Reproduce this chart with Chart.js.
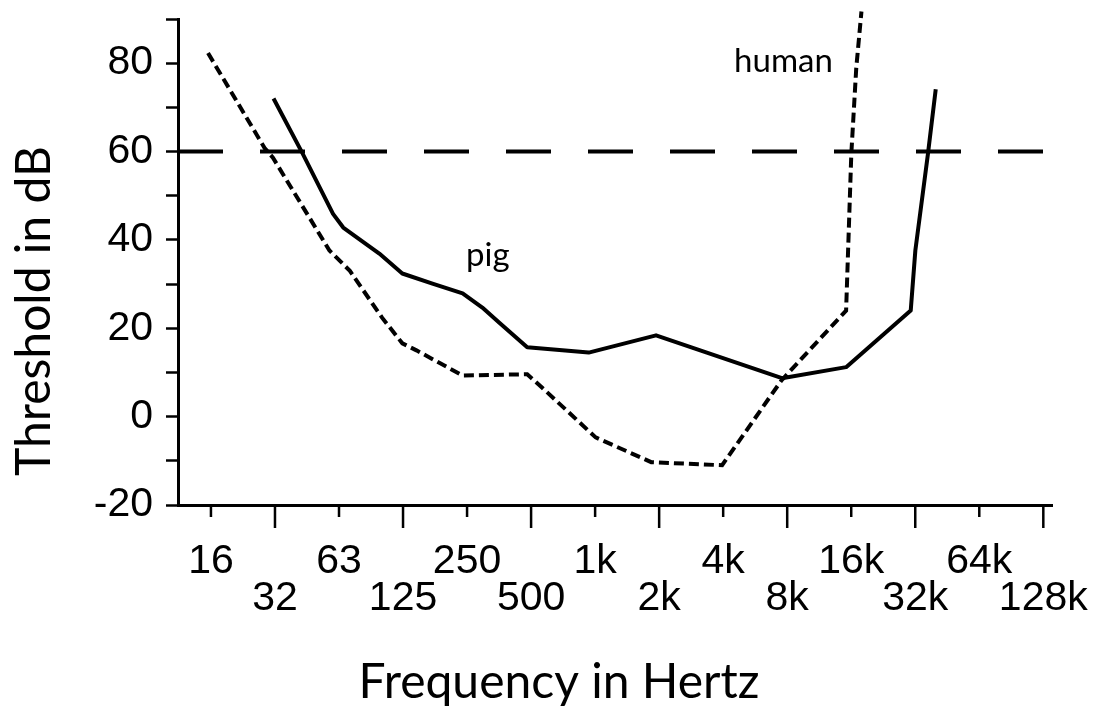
<!DOCTYPE html>
<html>
<head>
<meta charset="utf-8">
<script src="https://cdn.jsdelivr.net/npm/chart.js@4.4.1/dist/chart.umd.min.js"></script>
<style>
  html, body { margin: 0; padding: 0; background: #fff; }
  #wrap { width: 1098px; height: 709px; position: relative; }
</style>
</head>
<body>
<div id="wrap"><canvas id="audiogram"></canvas></div>
<script>
// octave ticks (Hz) and their printed labels
const tickHz = [16, 32, 64, 128, 256, 512, 1024, 2048, 4096, 8192, 16384, 32768, 65536, 131072];
const tickLabels = ['16', '32', '63', '125', '250', '500', '1k', '2k', '4k', '8k', '16k', '32k', '64k', '128k'];

// pig audiogram (solid line)
const pigHz = [31.5, 43, 60, 67, 99, 127, 176, 244, 302, 362, 491, 955, 1980, 7740, 15500, 31200, 32800, 37600, 40900];
const pigDb = [72, 59.7, 45.9, 42.8, 36.9, 32.4, 30.1, 27.9, 24.7, 21.3, 15.7, 14.5, 18.4, 8.7, 11.2, 24.0, 37.6, 59.5, 74.1];

// human audiogram (dashed line)
const humanHz = [15.5, 28.6, 31.3, 57.7, 72, 102, 127, 148, 244, 491, 576, 1030, 1880, 4050, 7700, 15500, 16400, 17300, 18300];
const humanDb = [82.3, 60.8, 58.6, 37.6, 33.0, 22.4, 16.6, 15.0, 9.3, 9.6, 6.6, -4.7, -10.3, -11.0, 8.2, 24.0, 59.5, 78.9, 91.7];

// 60 dB reference line
const refDb = 60;

// axis range
const xMin = 11.2, xMax = 144000;
const yMin = -20, yMax = 90;

// text on the plot
const curveLabels = [
  { text: 'human', hz: 4610, db: 78 },
  { text: 'pig', hz: 253, db: 34 }
];
const xTitle = 'Frequency in Hertz';
const yTitle = 'Threshold in dB';

const toPoints = (xs, ys) => xs.map((v, i) => ({ x: v, y: ys[i] }));

const tickFont = { family: 'Liberation Sans', size: 41, lineHeight: 0.9 };

// long/short x tick marks, curve labels and axis titles
const decorations = {
  id: 'decorations',
  afterDraw(chart) {
    const { ctx, scales: { x, y } } = chart;
    ctx.save();
    ctx.strokeStyle = '#000';
    ctx.lineWidth = 2.5;
    tickHz.forEach((hz, i) => {
      const px = x.getPixelForValue(hz);
      const len = i % 2 ? 23 : 12;
      ctx.beginPath();
      ctx.moveTo(px, x.top);
      ctx.lineTo(px, x.top + len);
      ctx.stroke();
    });

    ctx.fillStyle = '#000';
    ctx.textBaseline = 'alphabetic';
    ctx.textAlign = 'left';
    ctx.font = '33px Lato';
    curveLabels.forEach(l => {
      ctx.fillText(l.text, x.getPixelForValue(l.hz), y.getPixelForValue(l.db));
    });

    ctx.font = '48px Lato';
    ctx.textAlign = 'center';
    ctx.fillText(xTitle, 559, 698);
    ctx.translate(50, 311);
    ctx.rotate(-Math.PI / 2);
    ctx.fillText(yTitle, 0, 0);
    ctx.restore();
  }
};

new Chart(document.getElementById('audiogram'), {
  type: 'line',
  data: {
    datasets: [
      {
        label: '60 dB',
        data: [{ x: xMin, y: refDb }, { x: xMax, y: refDb }],
        borderColor: '#000',
        borderWidth: 4,
        borderDash: [45, 37],
        borderCapStyle: 'butt',
        pointRadius: 0
      },
      {
        label: 'human',
        data: toPoints(humanHz, humanDb),
        borderColor: '#000',
        borderWidth: 4,
        borderDash: [10, 5],
        pointRadius: 0,
        tension: 0,
        clip: false
      },
      {
        label: 'pig',
        data: toPoints(pigHz, pigDb),
        borderColor: '#000',
        borderWidth: 4,
        borderJoinStyle: 'round',
        pointRadius: 0,
        tension: 0,
        clip: false
      }
    ]
  },
  options: {
    responsive: true,
    maintainAspectRatio: false,
    animation: false,
    layout: { padding: { top: 19, right: 46, left: 0, bottom: 0 } },
    plugins: {
      legend: { display: false },
      tooltip: { enabled: false }
    },
    scales: {
      x: {
        type: 'logarithmic',
        min: xMin,
        max: xMax,
        afterBuildTicks: s => { s.ticks = tickHz.map(v => ({ value: v })); },
        afterFit: s => { s.height = 204; s.paddingLeft = 0; s.paddingRight = 0; },
        border: { display: true, color: '#000', width: 3 },
        grid: { display: false, drawTicks: false },
        ticks: {
          autoSkip: false,
          maxRotation: 0,
          padding: 38,
          color: '#000',
          font: tickFont,
          callback: (v, i) => i % 2 ? ['', tickLabels[i]] : [tickLabels[i], '']
        }
      },
      y: {
        min: yMin,
        max: yMax,
        afterFit: s => { s.width = 178; s.paddingTop = 0; s.paddingBottom = 0; },
        border: { display: true, color: '#000', width: 3 },
        grid: {
          display: true,
          drawOnChartArea: false,
          drawTicks: true,
          tickLength: 12,
          tickWidth: 2.5,
          tickColor: '#000'
        },
        ticks: {
          stepSize: 10,
          padding: 13,
          color: '#000',
          font: tickFont,
          callback: v => (v % 20 === 0 ? String(v) : '')
        }
      }
    }
  },
  plugins: [decorations]
});
</script>
</body>
</html>
